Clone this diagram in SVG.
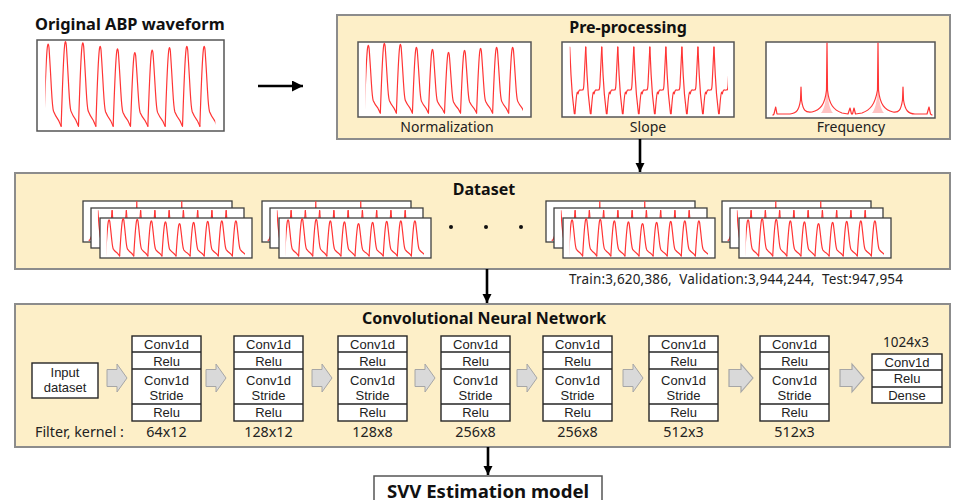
<svg xmlns="http://www.w3.org/2000/svg" xmlns:xlink="http://www.w3.org/1999/xlink" width="953" height="500" viewBox="0 0 953 500">
  <style>
    .panel { fill: #fdefc8; stroke: #8c8c8c; stroke-width: 2; }
    .plot { fill: #ffffff; stroke: #555555; stroke-width: 1.5; }
    .card { fill: #ffffff; stroke: #3f3f3f; stroke-width: 1.3; }
    .trace { fill: none; stroke: #ff3535; stroke-width: 1.2; stroke-linejoin: round; stroke-linecap: round; vector-effect: non-scaling-stroke; }
    .layer { fill: #ffffff; stroke: #262626; stroke-width: 1.4; }
    .div { stroke: #262626; stroke-width: 1.4; }
    .chev { fill: #d9d9d9; stroke: #a6a6a6; stroke-width: 1; }
    .link { stroke: #000000; stroke-width: 2.6; fill: none; }
    .h1 { font-family: "Noto Sans", "Liberation Sans", sans-serif; font-weight: bold; fill: #111111; }
    .tx { font-family: "Noto Sans", "Liberation Sans", sans-serif; fill: #222222; }
    .cell { font-family: "Liberation Sans", Arial, sans-serif; font-size: 13px; fill: #222222; text-anchor: middle; }
    .mid { text-anchor: middle; }
  </style>
  <defs>
    <!-- one pressure beat: trough (0,0) to next trough (1,0), peak at y=-1 -->
    <path id="abp-beat" class="trace" d="M0,0 C0.05,-0.3 0.12,-0.8 0.2,-0.95 C0.23,-1.01 0.27,-1.01 0.3,-0.95 C0.35,-0.8 0.4,-0.6 0.44,-0.45 C0.48,-0.3 0.5,-0.22 0.56,-0.18 C0.65,-0.13 0.75,-0.1 0.85,-0.07 C0.9,-0.05 0.95,-0.02 1,0"/>
    <!-- one derivative beat: spike (0,-1) to next spike (1,-1), baseline y=0 -->
    <path id="slope-beat" class="trace" d="M0,-1 L0.08,-0.4 C0.12,-0.1 0.2,0.2 0.29,0.45 L0.33,0.45 C0.38,0.2 0.42,0 0.48,-0.02 L0.52,0.02 C0.56,-0.06 0.62,-0.08 0.7,-0.06 L0.8,-0.07 C0.85,-0.06 0.88,-0.1 0.9,-0.3 L1,-1"/>

    <clipPath id="clip-norm" clipPathUnits="userSpaceOnUse"><rect x="7.7" y="-5" width="157.3" height="90"/></clipPath>
    <clipPath id="clip-slope" clipPathUnits="userSpaceOnUse"><rect x="7.7" y="-5" width="158.3" height="90"/></clipPath>

    <!-- normalized waveform, local box 173 x 75 -->
    <g id="wave-norm" clip-path="url(#clip-norm)">
      <use xlink:href="#abp-beat" transform="translate(6.3,71) scale(16.04,68)"/>
      <use xlink:href="#abp-beat" transform="translate(22.34,71) scale(16.04,70)"/>
      <use xlink:href="#abp-beat" transform="translate(38.38,71) scale(16.04,69)"/>
      <use xlink:href="#abp-beat" transform="translate(54.42,71) scale(16.04,66)"/>
      <use xlink:href="#abp-beat" transform="translate(70.46,71) scale(16.04,64)"/>
      <use xlink:href="#abp-beat" transform="translate(86.5,71) scale(16.04,61)"/>
      <use xlink:href="#abp-beat" transform="translate(102.54,71) scale(16.04,63)"/>
      <use xlink:href="#abp-beat" transform="translate(118.58,71) scale(16.04,65)"/>
      <use xlink:href="#abp-beat" transform="translate(134.62,71) scale(16.04,66)"/>
      <use xlink:href="#abp-beat" transform="translate(150.66,71) scale(16.04,66)"/>
    </g>

    <!-- slope waveform, local box 172 x 75 -->
    <g id="wave-slope" clip-path="url(#clip-slope)">
      <use xlink:href="#slope-beat" transform="translate(7.7,51) scale(16.03,46)"/>
      <use xlink:href="#slope-beat" transform="translate(23.73,51) scale(16.03,46)"/>
      <use xlink:href="#slope-beat" transform="translate(39.76,51) scale(16.03,46)"/>
      <use xlink:href="#slope-beat" transform="translate(55.79,51) scale(16.03,46)"/>
      <use xlink:href="#slope-beat" transform="translate(71.82,51) scale(16.03,46)"/>
      <use xlink:href="#slope-beat" transform="translate(87.85,51) scale(16.03,46)"/>
      <use xlink:href="#slope-beat" transform="translate(103.88,51) scale(16.03,46)"/>
      <use xlink:href="#slope-beat" transform="translate(119.91,51) scale(16.03,46)"/>
      <use xlink:href="#slope-beat" transform="translate(135.94,51) scale(16.03,46)"/>
      <use xlink:href="#slope-beat" transform="translate(151.97,51) scale(16.03,46)"/>
    </g>

    <!-- spectrum, local box 169 x 76 -->
    <g id="wave-freq">
      <path fill="#ff3535" fill-opacity="0.3" d="M55,71 C58,68 60,60 60.5,48 L61,1 L61.5,48 C62,60 64,68 67,71 Z M106,71 C109,68 111,60 111.5,48 L112,1 L112.5,48 C113,60 115,68 118,71 Z"/>
      <path class="trace" d="M7,73 L8,72 L9.7,65 L11,72 L24,72 C31,71 33,68 34.5,58 L35,45 L35.5,58 C37,68 39,71 46,70 C54,68 59,63 60.5,48 L61,1 L61.5,48 C63,63 68,68 76,71 L82,72 L84,66 L85.5,72 L86.5,72 L88,66 L89.5,72 L96,71 C104,68 109,63 111.5,48 L112,1 L112.5,48 C114,63 119,68 127,70 C133,71 135,68 136.5,58 L137,45 L137.5,58 C139,68 142,72 149,72 L161,72 L163,65 L164.5,72 L166,73"/>
    </g>

    <!-- gray flow arrow between layers -->
    <polygon id="chev" class="chev" points="0,-8.5 10,-8.5 10,-14 20,0 10,14 10,8.5 0,8.5"/>

    <marker id="head" viewBox="0 0 10 10" refX="10" refY="5" markerUnits="userSpaceOnUse" markerWidth="9" markerHeight="10" orient="auto">
      <path d="M0,0 L10,5 L0,10 Z" fill="#000000"/>
    </marker>
    <marker id="head-lg" viewBox="0 0 10 10" refX="10" refY="5" markerUnits="userSpaceOnUse" markerWidth="11" markerHeight="11" orient="auto">
      <path d="M0,0 L10,5 L0,10 Z" fill="#000000"/>
    </marker>
  </defs>

  <rect x="0" y="0" width="953" height="500" fill="#ffffff"/>

  <!-- raw waveform -->
  <g id="original">
    <text class="h1" x="35" y="30" font-size="16.4">Original ABP waveform</text>
    <rect class="plot" x="37" y="40" width="187" height="91"/>
    <use xlink:href="#wave-norm" transform="translate(37,40) scale(1.0809,1.2133)"/>
  </g>

  <!-- pre-processing panel -->
  <g id="preprocessing">
    <rect class="panel" x="337" y="15" width="613" height="124"/>
    <text class="h1 mid" x="628" y="33" font-size="16">Pre-processing</text>
    <rect class="plot" x="358" y="42" width="173" height="75"/>
    <use xlink:href="#wave-norm" transform="translate(358,42)"/>
    <text class="tx mid" x="447" y="132" font-size="14">Normalization</text>
    <rect class="plot" x="562" y="42" width="172" height="75"/>
    <use xlink:href="#wave-slope" transform="translate(562,42)"/>
    <text class="tx mid" x="648" y="132" font-size="14">Slope</text>
    <rect class="plot" x="766" y="42" width="169" height="76"/>
    <use xlink:href="#wave-freq" transform="translate(766,42)"/>
    <text class="tx mid" x="851" y="132" font-size="14">Frequency</text>
  </g>

  <!-- dataset panel -->
  <g id="dataset">
    <rect class="panel" x="15" y="173" width="935" height="96"/>
    <text class="h1 mid" x="484" y="195" font-size="16">Dataset</text>

    <g id="sample-1">
      <rect class="card" x="83" y="201" width="149" height="41"/>
      <use xlink:href="#wave-freq" transform="translate(83,201) scale(0.8817,0.5395)"/>
      <rect class="card" x="91" y="208" width="153" height="40"/>
      <use xlink:href="#wave-slope" transform="translate(91,208) scale(0.8895,0.5333)"/>
      <rect class="card" x="100" y="218" width="152" height="40"/>
      <use xlink:href="#wave-norm" transform="translate(100,218) scale(0.8786,0.5333)"/>
    </g>
    <g id="sample-2">
      <rect class="card" x="262" y="201" width="149" height="41"/>
      <use xlink:href="#wave-freq" transform="translate(262,201) scale(0.8817,0.5395)"/>
      <rect class="card" x="270" y="208" width="153" height="40"/>
      <use xlink:href="#wave-slope" transform="translate(270,208) scale(0.8895,0.5333)"/>
      <rect class="card" x="279" y="218" width="152" height="40"/>
      <use xlink:href="#wave-norm" transform="translate(279,218) scale(0.8786,0.5333)"/>
    </g>
    <g id="ellipsis" fill="#111111">
      <circle cx="451" cy="227" r="2"/>
      <circle cx="486" cy="227" r="2"/>
      <circle cx="521" cy="227" r="2"/>
    </g>
    <g id="sample-3">
      <rect class="card" x="546" y="201" width="149" height="41"/>
      <use xlink:href="#wave-freq" transform="translate(546,201) scale(0.8817,0.5395)"/>
      <rect class="card" x="554" y="208" width="153" height="40"/>
      <use xlink:href="#wave-slope" transform="translate(554,208) scale(0.8895,0.5333)"/>
      <rect class="card" x="563" y="218" width="152" height="40"/>
      <use xlink:href="#wave-norm" transform="translate(563,218) scale(0.8786,0.5333)"/>
    </g>
    <g id="sample-4">
      <rect class="card" x="722" y="201" width="149" height="41"/>
      <use xlink:href="#wave-freq" transform="translate(722,201) scale(0.8817,0.5395)"/>
      <rect class="card" x="730" y="208" width="153" height="40"/>
      <use xlink:href="#wave-slope" transform="translate(730,208) scale(0.8895,0.5333)"/>
      <rect class="card" x="739" y="218" width="152" height="40"/>
      <use xlink:href="#wave-norm" transform="translate(739,218) scale(0.8786,0.5333)"/>
    </g>
  </g>
  <text id="split" class="tx" x="569" y="284" font-size="13.5" textLength="334" style="white-space:pre">Train:3,620,386,  Validation:3,944,244,  Test:947,954</text>

  <!-- CNN panel -->
  <g id="cnn">
    <rect class="panel" x="15" y="304" width="935" height="143"/>
    <text class="h1 mid" x="484" y="324" font-size="16">Convolutional Neural Network</text>

    <g id="input">
      <rect class="layer" x="32" y="363" width="66" height="35"/>
      <text class="cell" x="65" y="377">Input</text>
      <text class="cell" x="65" y="392">dataset</text>
    </g>

    <g id="conv-1">
      <rect class="layer" x="132" y="336" width="69" height="85"/>
      <path class="div" d="M132,352 H201 M132,369 H201 M132,404 H201"/>
      <text class="cell" x="166.5" y="349">Conv1d</text>
      <text class="cell" x="166.5" y="366">Relu</text>
      <text class="cell" x="166.5" y="385">Conv1d</text>
      <text class="cell" x="166.5" y="400">Stride</text>
      <text class="cell" x="166.5" y="417">Relu</text>
    </g>
    <g id="conv-2">
      <rect class="layer" x="234" y="336" width="69" height="85"/>
      <path class="div" d="M234,352 H303 M234,369 H303 M234,404 H303"/>
      <text class="cell" x="268.5" y="349">Conv1d</text>
      <text class="cell" x="268.5" y="366">Relu</text>
      <text class="cell" x="268.5" y="385">Conv1d</text>
      <text class="cell" x="268.5" y="400">Stride</text>
      <text class="cell" x="268.5" y="417">Relu</text>
    </g>
    <g id="conv-3">
      <rect class="layer" x="338" y="336" width="69" height="85"/>
      <path class="div" d="M338,352 H407 M338,369 H407 M338,404 H407"/>
      <text class="cell" x="372.5" y="349">Conv1d</text>
      <text class="cell" x="372.5" y="366">Relu</text>
      <text class="cell" x="372.5" y="385">Conv1d</text>
      <text class="cell" x="372.5" y="400">Stride</text>
      <text class="cell" x="372.5" y="417">Relu</text>
    </g>
    <g id="conv-4">
      <rect class="layer" x="441" y="336" width="69" height="85"/>
      <path class="div" d="M441,352 H510 M441,369 H510 M441,404 H510"/>
      <text class="cell" x="475.5" y="349">Conv1d</text>
      <text class="cell" x="475.5" y="366">Relu</text>
      <text class="cell" x="475.5" y="385">Conv1d</text>
      <text class="cell" x="475.5" y="400">Stride</text>
      <text class="cell" x="475.5" y="417">Relu</text>
    </g>
    <g id="conv-5">
      <rect class="layer" x="543" y="336" width="69" height="85"/>
      <path class="div" d="M543,352 H612 M543,369 H612 M543,404 H612"/>
      <text class="cell" x="577.5" y="349">Conv1d</text>
      <text class="cell" x="577.5" y="366">Relu</text>
      <text class="cell" x="577.5" y="385">Conv1d</text>
      <text class="cell" x="577.5" y="400">Stride</text>
      <text class="cell" x="577.5" y="417">Relu</text>
    </g>
    <g id="conv-6">
      <rect class="layer" x="649" y="336" width="69" height="85"/>
      <path class="div" d="M649,352 H718 M649,369 H718 M649,404 H718"/>
      <text class="cell" x="683.5" y="349">Conv1d</text>
      <text class="cell" x="683.5" y="366">Relu</text>
      <text class="cell" x="683.5" y="385">Conv1d</text>
      <text class="cell" x="683.5" y="400">Stride</text>
      <text class="cell" x="683.5" y="417">Relu</text>
    </g>
    <g id="conv-7">
      <rect class="layer" x="760" y="336" width="69" height="85"/>
      <path class="div" d="M760,352 H829 M760,369 H829 M760,404 H829"/>
      <text class="cell" x="794.5" y="349">Conv1d</text>
      <text class="cell" x="794.5" y="366">Relu</text>
      <text class="cell" x="794.5" y="385">Conv1d</text>
      <text class="cell" x="794.5" y="400">Stride</text>
      <text class="cell" x="794.5" y="417">Relu</text>
    </g>
    <g id="head-block">
      <text class="tx mid" x="906" y="347" font-size="13.5">1024x3</text>
      <rect class="layer" x="872" y="354" width="70" height="49"/>
      <path class="div" d="M872,370 H942 M872,387 H942"/>
      <text class="cell" x="907" y="367">Conv1d</text>
      <text class="cell" x="907" y="383">Relu</text>
      <text class="cell" x="907" y="400">Dense</text>
    </g>

    <g id="flow">
      <use xlink:href="#chev" transform="translate(107,378)"/>
      <use xlink:href="#chev" transform="translate(206,378)"/>
      <use xlink:href="#chev" transform="translate(312,378)"/>
      <use xlink:href="#chev" transform="translate(415,378)"/>
      <use xlink:href="#chev" transform="translate(517,378)"/>
      <use xlink:href="#chev" transform="translate(623,378)"/>
      <use xlink:href="#chev" transform="translate(729,378) scale(1.2,1)"/>
      <use xlink:href="#chev" transform="translate(840,378) scale(1.2,1)"/>
    </g>

    <g id="kernels">
      <text class="tx" x="35" y="437" font-size="14.3">Filter, kernel :</text>
      <text class="tx mid" x="166.5" y="437" font-size="14.3">64x12</text>
      <text class="tx mid" x="268.5" y="437" font-size="14.3">128x12</text>
      <text class="tx mid" x="372.5" y="437" font-size="14.3">128x8</text>
      <text class="tx mid" x="475.5" y="437" font-size="14.3">256x8</text>
      <text class="tx mid" x="577.5" y="437" font-size="14.3">256x8</text>
      <text class="tx mid" x="683.5" y="437" font-size="14.3">512x3</text>
      <text class="tx mid" x="794.5" y="437" font-size="14.3">512x3</text>
    </g>
  </g>

  <!-- output model -->
  <g id="svv-model">
    <rect x="374" y="476" width="228" height="30" fill="#ffffff" stroke="#555555" stroke-width="1.5"/>
    <text class="h1 mid" x="488" y="497.5" font-size="18.6">SVV Estimation model</text>
  </g>

  <!-- connectors -->
  <g id="connectors">
    <line class="link" x1="258" y1="86" x2="303" y2="86" stroke-width="3" marker-end="url(#head-lg)"/>
    <line class="link" x1="640" y1="139" x2="640" y2="172" marker-end="url(#head)"/>
    <line class="link" x1="487" y1="269" x2="487" y2="303" marker-end="url(#head)"/>
    <line class="link" x1="488" y1="447" x2="488" y2="475" marker-end="url(#head)"/>
  </g>
</svg>
